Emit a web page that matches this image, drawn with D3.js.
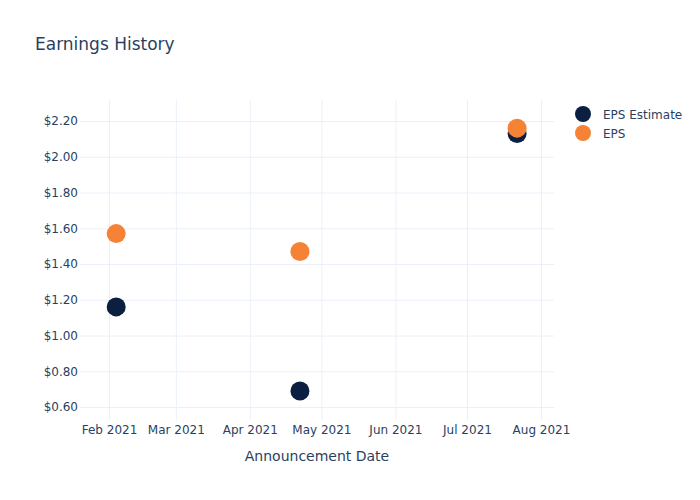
<!DOCTYPE html>
<html><head><meta charset="utf-8">
<script src="https://cdn.jsdelivr.net/npm/d3@7"></script>
<style>body{margin:0;background:#fff;} text{font-family:"DejaVu Sans",Verdana,sans-serif;}</style>
</head><body>
<svg id="chart" width="700" height="500"></svg>
<script>
const dates = ["2021-02-04", "2021-04-22", "2021-07-22"];
const epsEstimate = [1.16, 0.69, 2.13];
const eps = [1.57, 1.47, 2.16];
const yTicks = [0.6, 0.8, 1.0, 1.2, 1.4, 1.6, 1.8, 2.0, 2.2];
const xTicks = ["2021-02-01","2021-03-01","2021-04-01","2021-05-01","2021-06-01","2021-07-01","2021-08-01"];
const seriesNames = ["EPS Estimate", "EPS"];
const colors = ["#0b1f41", "#f58235"];

const parse = d3.utcParse("%Y-%m-%d");
const svg = d3.select("#chart");
const L = 80, R = 554, T = 100, B = 420;
const textColor = "#2a3f5f", grid = "#ebf0f8";

const x = d3.scaleUtc()
  .domain([new Date(Date.UTC(2021,0,19,20)), new Date(Date.UTC(2021,7,6,11))])
  .range([L, R]);
const y = d3.scaleLinear().domain([0.5273, 2.3175]).range([B, T]);

// grid
const gx = d3.axisBottom(x).tickValues(xTicks.map(parse)).tickSize(-(B - T)).tickFormat("");
svg.append("g").attr("transform", `translate(0,${B})`).call(gx)
  .call(g => { g.select(".domain").remove(); g.selectAll("line").attr("stroke", grid); });
const gy = d3.axisLeft(y).tickValues(yTicks).tickSize(-(R - L)).tickFormat("");
svg.append("g").attr("transform", `translate(${L},0)`).call(gy)
  .call(g => { g.select(".domain").remove(); g.selectAll("line").attr("stroke", grid); });

// tick labels
const xa = d3.axisBottom(x).tickValues(xTicks.map(parse)).tickSize(0).tickPadding(5)
  .tickFormat(d3.utcFormat("%b %Y"));
svg.append("g").attr("transform", `translate(0,${B})`).call(xa)
  .call(g => { g.select(".domain").remove(); g.selectAll("text").attr("fill", textColor).attr("font-size", 12); });
const ya = d3.axisLeft(y).tickValues(yTicks).tickSize(0).tickPadding(2)
  .tickFormat(d => "$" + d3.format(".2f")(d));
svg.append("g").attr("transform", `translate(${L},0)`).call(ya)
  .call(g => { g.select(".domain").remove(); g.selectAll("text").attr("fill", textColor).attr("font-size", 12); });

// points
const seriesData = [epsEstimate, eps];
seriesData.forEach((vals, si) => {
  svg.append("g").selectAll("circle").data(vals).join("circle")
    .attr("cx", (d, i) => x(parse(dates[i])))
    .attr("cy", d => y(d))
    .attr("r", 9.5)
    .attr("fill", colors[si]);
});

// title
svg.append("text").attr("x", 35).attr("y", 50).attr("fill", textColor)
  .attr("font-size", 17).text("Earnings History");
// axis title
svg.append("text").attr("x", (L + R) / 2).attr("y", 461).attr("text-anchor", "middle")
  .attr("fill", textColor).attr("font-size", 14).text("Announcement Date");

// legend
const lg = svg.append("g");
seriesNames.forEach((n, i) => {
  const yy = 114 + i * 19;
  lg.append("circle").attr("cx", 583).attr("cy", yy).attr("r", 8).attr("fill", colors[i]);
  lg.append("text").attr("x", 603).attr("y", yy + 4.5).attr("fill", textColor)
    .attr("font-size", 12).text(n);
});
</script>
</body></html>
